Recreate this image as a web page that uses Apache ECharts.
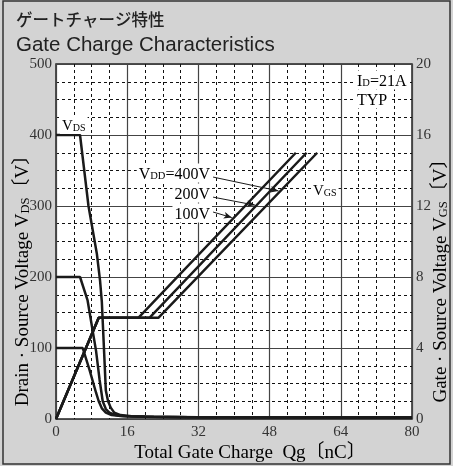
<!DOCTYPE html>
<html><head><meta charset="utf-8">
<script src="https://cdn.jsdelivr.net/npm/echarts@6/dist/echarts.min.js"></script>
<style>html,body{margin:0;padding:0;background:#d3d3d3}#c{width:453px;height:466px}</style>
</head><body><div id="c"></div>
<script>
// Axis ranges / ticks
const qRange = [0, 80], qInterval = 16;          // Total gate charge Qg [nC]
const vdsRange = [0, 500], vdsInterval = 100;    // VDS [V]
const vgsRange = [0, 20], vgsInterval = 4;       // VGS [V]

// VDS curves [Qg, VDS]
const vds400 = [[0,400],[5.4,400],[7.3,300],[9.2,232],[9.9,195],[10.3,165],[10.7,110],[11.2,40],[11.7,25],[12.3,16],[13.1,9],[14.5,5.5],[17,4],[22,3],[32,2.3],[80,2]];
const vds200 = [[0,200],[5.4,200],[7.1,167],[9.0,96],[9.8,55],[10.5,25],[11.2,14],[12,9],[13.5,5.5],[16,4],[20,3],[30,2.3],[80,2]];
const vds100 = [[0,100],[6.0,100],[7.5,70],[9.0,37],[9.6,25],[10.3,15],[11.2,9],[12.5,5.5],[15,4],[20,3],[30,2.3],[80,2]];

// VGS curves [Qg, VGS]
const vgs100 = [[0,0],[9.6,5.7],[18.5,5.7],[53.9,15]];
const vgs200 = [[0,0],[9.6,5.7],[21.0,5.7],[56.3,15]];
const vgs400 = [[0,0],[9.6,5.7],[23.0,5.7],[58.7,15]];

// Leader arrows from labels to VGS curves [[from],[to]] in (Qg, VGS)
const arrow400 = [[35.3,13.63],[50.0,12.85]];
const arrow200 = [[35.3,12.50],[44.7,12.05]];
const arrow100 = [[35.3,11.66],[39.5,11.35]];

const SERIF = "'Liberation Serif','DejaVu Serif','Noto Sans CJK JP',serif";
const INK = '#1a1a1a';
const TXT = '#333';

const chart = echarts.init(document.getElementById('c'), null, {renderer:'canvas'});

function lineSeries(name, data, yIdx, extra) {
  return Object.assign({
    name, type:'line', data, yAxisIndex:yIdx, showSymbol:false, symbol:'none',
    lineStyle:{color:INK, width:2.5}, itemStyle:{color:INK}, z:5, silent:true
  }, extra||{});
}

const arrowMark = {
  silent:true, symbol:['none','arrow'], symbolSize:[5,8],
  lineStyle:{color:INK, width:1, type:'solid'}, label:{show:false},
  data:[arrow400, arrow200, arrow100].map(a => [{coord:a[0]},{coord:a[1]}])
};

const rich = (big, small) => ({
  a:{fontFamily:SERIF, fontSize:big, color:TXT, verticalAlign:'bottom', lineHeight:big+2},
  s:{fontFamily:SERIF, fontSize:small, color:TXT, verticalAlign:'bottom', lineHeight:big+2, padding:[0,0,1,0]}
});

function label(x, y, text, align, big, small, bg) {
  return {type:'text', x, y, z:100, silent:true,
    style:{text, rich:rich(big, small), align:align, verticalAlign:'middle',
      backgroundColor: bg===false ? 'transparent' : '#fff', padding:[1,2,0,2]}};
}

chart.setOption({
  animation:false,
  backgroundColor:'#d3d3d3',
  grid:{left:56, right:41, top:64, bottom:47, show:true, backgroundColor:'#fff', borderColor:'#222', borderWidth:1.5, z:0},
  xAxis:{type:'value', min:qRange[0], max:qRange[1], interval:qInterval,
    axisLine:{show:false}, axisTick:{show:false},
    axisLabel:{fontFamily:SERIF, fontSize:15, color:TXT, margin:6},
    splitLine:{show:true, lineStyle:{color:'#444', width:1.2}},
    minorTick:{show:false, splitNumber:4},
    minorSplitLine:{show:true, lineStyle:{color:'#111', width:1, type:[3,3]}}},
  yAxis:[
    {type:'value', min:vdsRange[0], max:vdsRange[1], interval:vdsInterval,
      axisLine:{show:false}, axisTick:{show:false},
      axisLabel:{fontFamily:SERIF, fontSize:15, color:TXT, margin:4},
      splitLine:{show:true, lineStyle:{color:'#444', width:1.2}},
      minorTick:{show:false, splitNumber:4},
      minorSplitLine:{show:true, lineStyle:{color:'#111', width:1, type:[3,3]}}},
    {type:'value', position:'right', min:vgsRange[0], max:vgsRange[1], interval:vgsInterval,
      axisLine:{show:false}, axisTick:{show:false},
      axisLabel:{fontFamily:SERIF, fontSize:15, color:TXT, margin:4},
      splitLine:{show:false}}
  ],
  series:[
    lineSeries('VDS 400V', vds400, 0),
    lineSeries('VDS 200V', vds200, 0),
    lineSeries('VDS 100V', vds100, 0),
    lineSeries('VGS 100V', vgs100, 1),
    lineSeries('VGS 200V', vgs200, 1),
    lineSeries('VGS 400V', vgs400, 1, {markLine:arrowMark})
  ],
  graphic:[
    {type:'rect', shape:{x:3, y:1, width:447, height:463}, style:{fill:'none', stroke:'#333', lineWidth:1.5}, z:200, silent:true},
    {type:'text', x:16, y:20, style:{text:'ゲートチャージ特性', font:"500 16.5px 'Noto Sans CJK JP'", fill:'#222', verticalAlign:'middle'}},
    {type:'text', x:16, y:45, style:{text:'Gate Charge Characteristics', font:"20.5px 'Liberation Sans', Arial, sans-serif", fill:'#222', verticalAlign:'middle'}},
    {type:'text', x:22, y:276, rotation:Math.PI/2, style:{text:'{a|Drain · Source Voltage V}{s|DS}{a|〔V〕}', rich:rich(19,12.5), align:'center', verticalAlign:'middle'}},
    {type:'text', x:440, y:276, rotation:Math.PI/2, style:{text:'{a|Gate · Source Voltage V}{s|GS}{a|〔V〕}', rich:rich(19,12.5), align:'center', verticalAlign:'middle'}},
    {type:'text', x:250, y:452, style:{text:'{a|Total Gate Charge  Qg〔nC〕}', rich:rich(19,12.5), align:'center', verticalAlign:'middle'}},
    label(212, 173, '{a|V}{s|DD}{a|=400V}', 'right', 16, 10.5),
    label(212, 193, '{a|200V}', 'right', 16, 10.5),
    label(212, 213, '{a|100V}', 'right', 16, 10.5),
    label(311, 190, '{a|V}{s|GS}', 'left', 15, 10),
    label(60, 125, '{a|V}{s|DS}', 'left', 15, 10),
    label(355, 80, '{a|I}{s|D}{a|=21A}', 'left', 16, 10.5),
    label(355, 99, '{a|TYP}', 'left', 16, 10.5)
  ]
});
</script></body></html>
